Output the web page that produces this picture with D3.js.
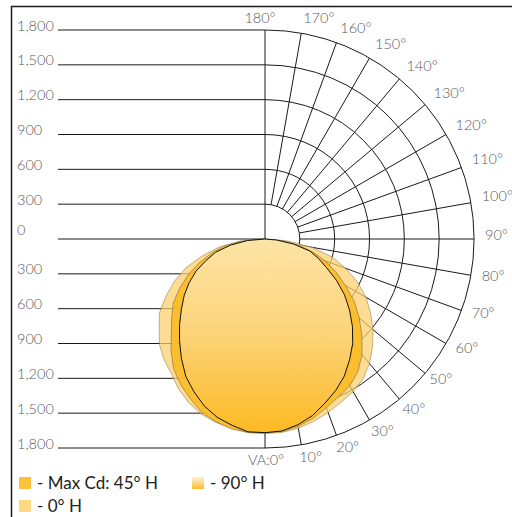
<!DOCTYPE html>
<html><head><meta charset="utf-8">
<script src="https://cdn.jsdelivr.net/npm/d3@7/dist/d3.min.js"></script>
<style>html,body{margin:0;padding:0;background:#fff;} svg{display:block;}</style>
</head><body>
<svg id="chart" width="512" height="517"></svg>
<script>
// ---- data ----
const angles = [0,5,10,15,20,25,30,35,40,45,50,55,60,65,70,75,80,85,90];
// candela values, right half (0..90 from nadir) and left half
const h0Right  = [1676,1672,1655,1625,1590,1550,1518,1472,1400,1310,1215,1110,1005,880,740,600,410,200,0];
const h0Left   = [1676,1676,1655,1635,1605,1555,1490,1410,1355,1285,1190,1110,985,860,725,560,400,220,0];
const h45Right = [1670,1665,1640,1600,1545,1500,1460,1395,1300,1180,1060,940,800,675,555,420,280,140,0];
const h45Left  = [1670,1670,1662,1630,1590,1520,1450,1370,1260,1140,1050,965,850,730,605,480,360,210,0];
const h90Right = [1668,1660,1625,1575,1506,1440,1365,1270,1175,1065,950,835,710,585,490,400,250,100,0];
const h90Left  = [1668,1667,1630,1590,1530,1450,1365,1255,1145,1040,940,850,755,655,540,440,300,150,0];

const gridValues = [0,300,600,900,1200,1500,1800];
const gridLabels = ["0","300","600","900","1,200","1,500","1,800"];
const angleTicks = [10,20,30,40,50,60,70,80,90,100,110,120,130,140,150,160,170];
const angleLabels = ["10°","20°","30°","40°","50°","60°","70°","80°","90°","100°","110°","120°","130°","140°","150°","160°","170°"];
const topLabel = "180°";
const bottomLabel = "VA:0°";
const legendLabels = ["- Max Cd: 45° H", "- 90° H", "- 0° H"];

// ---- layout ----
const svg = d3.select("#chart");
const cx = 265, cy = 239;
const r = d3.scaleLinear().domain([0,1800]).range([0,209]);
const rad = Math.PI/180;
const labelFont = "Lato, 'Open Sans', sans-serif";
const labelColor = "#5a5a5a";

// gradient for 90° H (in the shapes group's local coordinates)
const defs = svg.append("defs");
const grad = defs.append("linearGradient").attr("id","g90")
  .attr("gradientUnits","userSpaceOnUse").attr("x1",0).attr("x2",0)
  .attr("y1",0).attr("y2",r(1668));
grad.append("stop").attr("offset","0%").attr("stop-color","#fde8b2");
grad.append("stop").attr("offset","50%").attr("stop-color","#fdd580");
grad.append("stop").attr("offset","100%").attr("stop-color","#fcb921");
const gradL = defs.append("linearGradient").attr("id","g90l")
  .attr("x1",0).attr("x2",0).attr("y1",0).attr("y2",1);
gradL.append("stop").attr("offset","0%").attr("stop-color","#fef2d4");
gradL.append("stop").attr("offset","100%").attr("stop-color","#fcbc2c");

// ---- left horizontal scale lines ----
const gLeft = svg.append("g");
gridValues.forEach((v,i) => {
  const ys = v === 0 ? [cy] : [cy - r(v), cy + r(v)];
  ys.forEach(y => {
    gLeft.append("line").attr("x1",58).attr("x2",cx).attr("y1",y).attr("y2",y)
      .attr("stroke","#1a1a1a").attr("stroke-width",1);
    gLeft.append("text").attr("x",17).attr("y", v === 0 ? y - 4 : y + 0.5)
      .attr("font-family",labelFont).attr("font-weight",300).attr("font-size",14.5).attr("fill",labelColor)
      .text(gridLabels[i]);
  });
});

// ---- polar grid (right half) ----
const gPolar = svg.append("g").attr("transform",`translate(${cx},${cy})`);
gridValues.filter(v => v > 0).forEach(v => {
  const p = d3.path();
  p.arc(0,0,r(v),-Math.PI/2,Math.PI/2);
  gPolar.append("path").attr("d",p.toString()).attr("fill","none")
    .attr("stroke","#1a1a1a").attr("stroke-width",1);
});
const pt = (a, v) => [r(v)*Math.sin(a*rad), r(v)*Math.cos(a*rad)];
angleTicks.forEach(a => {
  const [x1,y1] = pt(a,300), [x2,y2] = pt(a,1800);
  gPolar.append("line").attr("x1",x1).attr("y1",y1).attr("x2",x2).attr("y2",y2)
    .attr("stroke","#1a1a1a").attr("stroke-width",1);
});
[0,180].forEach(a => {
  const [x2,y2] = pt(a,1800);
  gPolar.append("line").attr("x1",0).attr("y1",0).attr("x2",x2).attr("y2",y2)
    .attr("stroke","#1a1a1a").attr("stroke-width",1);
});

// ---- distribution shapes ----
const radial = d3.lineRadial().angle(d => d[0]).radius(d => d[1]).curve(d3.curveLinearClosed);
function shapePts(right, left){
  const pts = [];
  angles.forEach((a,i) => pts.push([Math.PI - a*rad, r(right[i])]));
  for (let i = angles.length-1; i >= 0; i--) pts.push([Math.PI + angles[i]*rad, r(left[i])]);
  return pts;
}
const gShapes = svg.append("g").attr("transform",`translate(${cx},${cy})`);
gShapes.append("path").attr("d", radial(shapePts(h0Right,h0Left)))
  .attr("fill","#fdcf6a").attr("fill-opacity",0.72)
  .attr("stroke","#8c7a52").attr("stroke-opacity",0.7).attr("stroke-width",0.8);
gShapes.append("path").attr("d", radial(shapePts(h45Right,h45Left)))
  .attr("fill","#fbbb26").attr("fill-opacity",0.92)
  .attr("stroke","#7a6235").attr("stroke-opacity",0.7).attr("stroke-width",0.8);
gShapes.append("path").attr("d", radial(shapePts(h90Right,h90Left)))
  .attr("fill","url(#g90)").attr("fill-opacity",0.9)
  .attr("stroke","#111").attr("stroke-width",1);

// ---- angle labels ----
const gLab = svg.append("g").attr("font-family",labelFont).attr("font-weight",300)
  .attr("font-size",14.5).attr("fill",labelColor);
angleTicks.forEach((a,i) => {
  const [x,y] = pt(a, r.invert(220));
  const dx = a <= 50 ? -4 : 0;
  const dy = a >= 90 ? -3 : (a <= 40 ? 2.5 : 0);
  gLab.append("text").attr("x",cx + x + dx).attr("y",cy + y + dy)
    .attr("dominant-baseline","middle").text(angleLabels[i]);
});
gLab.append("text").attr("x",260).attr("y",19).attr("text-anchor","middle")
  .attr("dominant-baseline","middle").text(topLabel);
gLab.append("text").attr("x",266).attr("y",461).attr("text-anchor","middle")
  .attr("dominant-baseline","middle").text(bottomLabel);

// ---- frame ----
svg.append("path").attr("d","M11.5,517V6.5H512").attr("fill","none")
  .attr("stroke","#1a1a1a").attr("stroke-width",1.5);

// ---- legend ----
const legend = [
  {x:19, y:477, fill:"#fcc23c", text:legendLabels[0]},
  {x:192, y:477, fill:"url(#g90l)", text:legendLabels[1]},
  {x:19, y:500, fill:"#fdd984", text:legendLabels[2]}
];
const gLeg = svg.append("g");
legend.forEach(d => {
  gLeg.append("rect").attr("x",d.x).attr("y",d.y).attr("width",12).attr("height",12).attr("fill",d.fill);
  gLeg.append("text").attr("x",d.x + 18).attr("y",d.y + 12)
    .attr("font-family",labelFont).attr("font-size",17).attr("fill","#222").text(d.text);
});
</script>
</body></html>
